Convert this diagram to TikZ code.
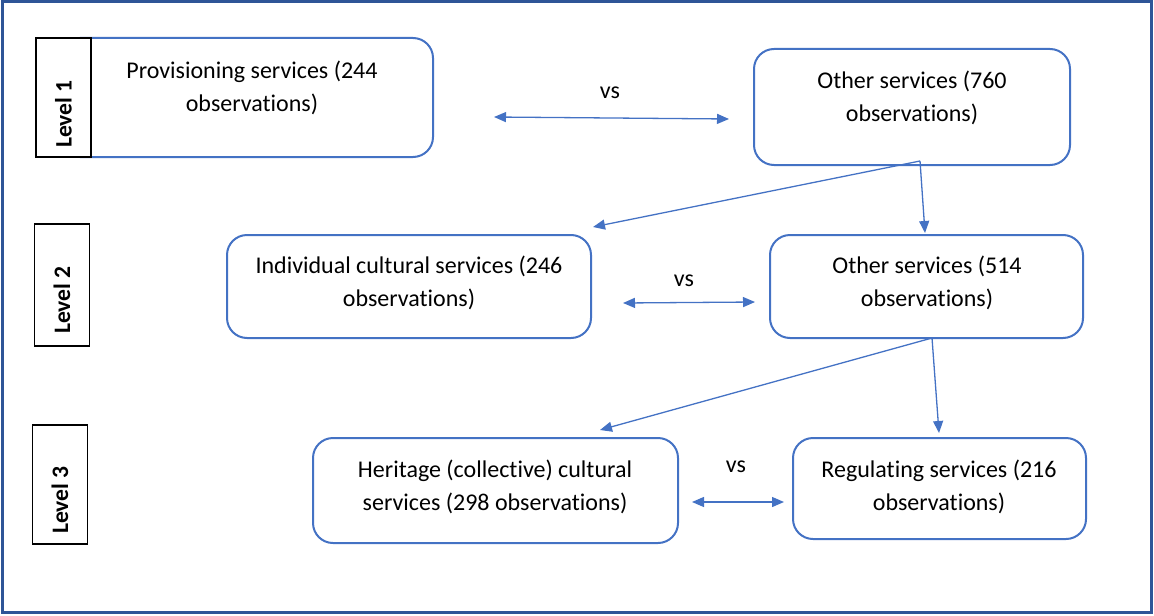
\documentclass[tikz,border=0pt]{standalone}
\usepackage{fontspec}
\setmainfont[Ligatures=NoCommon]{Carlito}
\usetikzlibrary{arrows.meta}
\definecolor{boxblue}{HTML}{4472C4}
\definecolor{frameblue}{HTML}{2F5597}

\begin{document}
\begin{tikzpicture}[x=0.5pt,y=-0.5pt,
  service/.style={draw=boxblue,line width=1pt,rounded corners=10pt,inner sep=0pt},
  levelbox/.style={draw=black,fill=white,line width=0.8pt,inner sep=0pt,minimum width=27.5pt},
  leveltext/.style={rotate=90,font=\bfseries\fontsize{11.8}{13}\selectfont},
  txt/.style={align=center,font=\fontsize{12}{16.5}\selectfont},
  link/.style={draw=boxblue,line width=0.65pt,-{Triangle[length=6pt,width=5pt]}},
  both/.style={link,{Triangle[length=6pt,width=5pt]}-{Triangle[length=6pt,width=5pt]}}]
  \useasboundingbox (0,0) rectangle (1154,615);
  \draw[frameblue,line width=1.5pt] (2,2) rectangle (1151,612);

  % service boxes
  \node[service,minimum width=186.5pt,minimum height=59.5pt] (prov) at (246.5,97.5) {};
  \node[service,minimum width=158pt,minimum height=58pt] (oth1) at (912,107) {};
  \node[service,minimum width=182pt,minimum height=51.5pt] (indiv) at (409,286.5) {};
  \node[service,minimum width=156.5pt,minimum height=51.5pt] (oth2) at (926.5,286.5) {};
  \node[service,minimum width=182.5pt,minimum height=52.5pt] (herit) at (495.5,490.5) {};
  \node[service,minimum width=146.5pt,minimum height=50.5pt] (regul) at (939.5,488.5) {};

  \node[txt] (provt) at (252,88) {Provisioning services (244\\observations)};
  \node[txt] (oth1t) at (912,98) {Other services (760\\observations)};
  \node[txt] (indivt) at (409,283) {Individual cultural services (246\\observations)};
  \node[txt] (oth2t) at (927,283) {Other services (514\\observations)};
  \node[txt] (heritt) at (495,487) {Heritage (collective) cultural\\services (298 observations)};
  \node[txt] (regult) at (939,487) {Regulating services (216\\observations)};

  % levels
  \foreach \n/\x/\y/\h/\t in {1/63.5/97.5/59.5/114, 2/62/285/61/300, 3/60/484.5/59.5/500}
    {\node[levelbox,minimum height=\h pt] (lev\n) at (\x,\y) {};
     \node[leveltext] (levt\n) at (\x,\t) {Level \n};}

  % versus arrows
  \coordinate (v1a) at (494,117); \coordinate (v1b) at (729,119);
  \coordinate (v2a) at (623,303); \coordinate (v2b) at (755,302);
  \coordinate (v3a) at (692,502); \coordinate (v3b) at (784,502);
  \draw[both] (v1a) -- (v1b);
  \draw[both] (v2a) -- (v2b);
  \draw[both] (v3a) -- (v3b);
  \node[txt] (vs1) at (610,93) {vs};
  \node[txt] (vs2) at (684,281) {vs};
  \node[txt] (vs3) at (736,467) {vs};

  % splits
  \coordinate (s1) at (920,161); \coordinate (s2) at (932,338);
  \coordinate (e1) at (593,227); \coordinate (e2) at (600,430);
  \draw[link] (s1) -- (e1);
  \draw[link] (s1) -- (925,233) coordinate (e1b);
  \draw[link] (s2) -- (e2);
  \draw[link] (s2) -- (939,433) coordinate (e2b);
\end{tikzpicture}
\end{document}
